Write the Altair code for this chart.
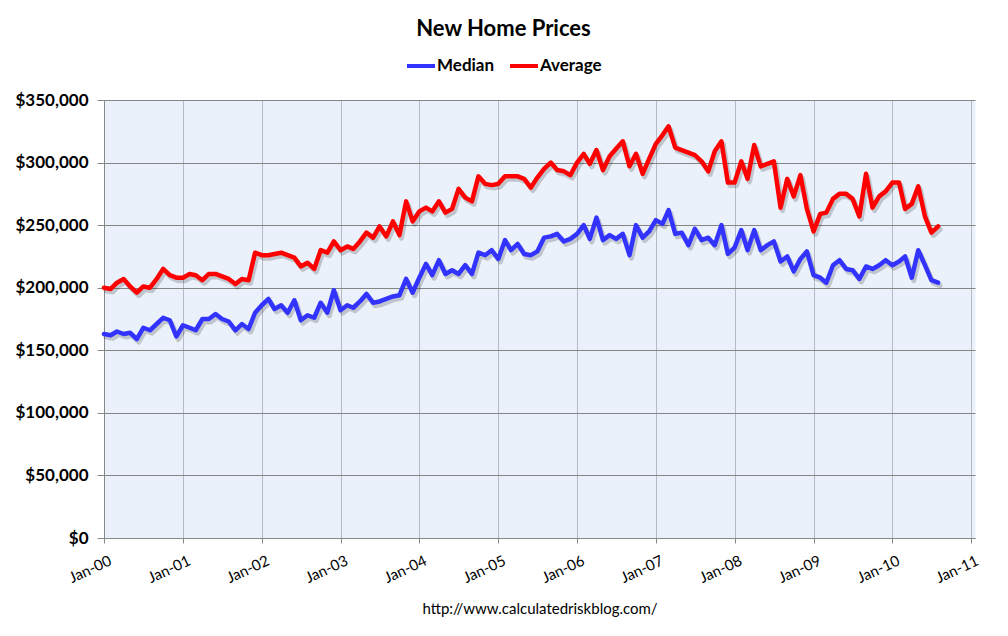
import altair as alt
import pandas as pd

# Monthly data, Jan-2000 .. Aug-2010 (values in thousands of dollars)
months = pd.date_range("2000-01-01", periods=128, freq="MS")

median_k = [
    163, 162, 165, 163, 164, 159, 168, 166, 171, 176, 174, 161,   # 2000
    170, 168, 166, 175, 175, 179, 175, 173, 166, 171, 167, 180,   # 2001
    186, 191, 183, 186, 180, 190, 174, 178, 176, 188, 180, 198,   # 2002
    182, 186, 184, 189, 195, 188, 189, 191, 193, 194, 207, 196,   # 2003
    208, 219, 210, 222, 211, 214, 211, 218, 211, 228, 226, 230,   # 2004
    223, 238, 230, 235, 227, 226, 229, 240, 241, 243, 237, 239,   # 2005
    243, 250, 239, 256, 238, 242, 239, 243, 226, 250, 240, 245,   # 2006
    254, 251, 262, 243, 244, 234, 247, 238, 240, 234, 250, 227,   # 2007
    232, 246, 230, 246, 230, 234, 237, 221, 225, 213, 223, 229,   # 2008
    210, 208, 204, 218, 222, 215, 214, 207, 217, 215, 218, 222,   # 2009
    218, 221, 225, 208, 230, 218, 206, 204,                       # 2010
]

average_k = [
    200, 199, 204, 207, 201, 196, 201, 200, 207, 215, 210, 208,   # 2000
    208, 211, 210, 206, 211, 211, 209, 207, 203, 207, 206, 228,   # 2001
    226, 226, 227, 228, 226, 224, 217, 220, 215, 230, 228, 237,   # 2002
    230, 233, 231, 237, 244, 240, 249, 241, 253, 242, 269, 253,   # 2003
    261, 264, 261, 269, 260, 263, 279, 272, 269, 289, 283, 282,   # 2004
    283, 289, 289, 289, 287, 280, 288, 295, 300, 294, 293, 290,   # 2005
    300, 307, 299, 310, 294, 305, 311, 317, 297, 307, 291, 303,   # 2006
    315, 322, 329, 312, 310, 308, 306, 301, 293, 309, 317, 284,   # 2007
    284, 301, 287, 314, 297, 299, 301, 264, 287, 273, 290, 263,   # 2008
    245, 259, 260, 271, 275, 275, 271, 257, 291, 264, 273, 277,   # 2009
    284, 284, 263, 267, 281, 257, 244, 249,                       # 2010
]

series_names = ["Median", "Average"]
series_colors = ["#3333FF", "#FF0000"]
y_ticks = [0, 50000, 100000, 150000, 200000, 250000, 300000, 350000]
x_tick_years = list(range(2000, 2012))

rows = []
for d, v in zip(months, median_k):
    rows.append({"date": d, "value": v * 1000, "series": "Median"})
for d, v in zip(months, average_k):
    rows.append({"date": d, "value": v * 1000, "series": "Average"})
df = pd.DataFrame(rows)

FONT = "Lato"

x_enc = alt.X(
    "date:T",
    scale=alt.Scale(
        domain=[alt.DateTime(year=2000, month=1, date=1),
                alt.DateTime(year=2011, month=1, date=19)],
        nice=False,
    ),
    axis=alt.Axis(
        values=[alt.DateTime(year=y, month=1, date=1) for y in x_tick_years],
        format="%b-%y",
        labelAngle=335,
        labelAlign="right",
        labelBaseline="top",
        labelFont=FONT,
        labelFontSize=15,
        labelColor="#000000",
        labelPadding=10,
        labelOffset=3,
        tickSize=5,
        tickColor="#888888",
        domainColor="#888888",
        grid=True,
        gridColor="#B4BAC6",
        gridWidth=1,
        title="http://www.calculatedriskblog.com/",
        titleFont=FONT,
        titleFontSize=15,
        titleFontWeight="normal",
        titleColor="#000000",
        titlePadding=16,
    ),
)

y_enc = alt.Y(
    "value:Q",
    scale=alt.Scale(domain=[0, 350000], nice=False),
    axis=alt.Axis(
        values=y_ticks,
        format="$,.0f",
        title=None,
        labelFont=FONT,
        labelFontSize=17,
        labelFontWeight="bold",
        labelColor="#000000",
        labelPadding=9,
        tickSize=7,
        tickColor="#888888",
        domainColor="#888888",
        grid=True,
        gridColor="#858585",
        gridWidth=1,
    ),
)

shadow = alt.Chart(df).mark_line(
    color="#000000", opacity=0.18, strokeWidth=5, xOffset=2, yOffset=3,
    strokeJoin="round", strokeCap="round",
).encode(x=x_enc, y=y_enc, detail="series:N")

lines = alt.Chart(df).mark_line(
    strokeWidth=4.5, strokeJoin="round", strokeCap="round",
).encode(
    x=x_enc,
    y=y_enc,
    color=alt.Color(
        "series:N",
        scale=alt.Scale(domain=series_names, range=series_colors),
        sort=series_names,
        legend=alt.Legend(
            orient="none",
            legendX=301,
            legendY=-50,
            direction="horizontal",
            title=None,
            symbolType="stroke",
            symbolSize=784,
            symbolStrokeWidth=4,
            labelFont=FONT,
            labelFontSize=17,
            labelFontWeight="bold",
            labelColor="#000000",
            labelOffset=0,
            columnPadding=7,
            padding=0,
        ),
    ),
)

chart = alt.layer(shadow, lines).properties(
    width=871,
    height=438,
    title=alt.TitleParams(
        "New Home Prices",
        font=FONT,
        fontSize=22,
        fontWeight="bold",
        color="#000000",
        anchor="middle",
        dx=-36,
        offset=9,
    ),
    autosize=alt.AutoSizeParams(type="none"),
    padding={"left": 96, "top": 92, "right": 25, "bottom": 90},
    background="#FFFFFF",
).configure_view(
    fill="#EBF1FA",
    strokeOpacity=0,
)

chart.save("out.html", embed_options={"renderer": "svg", "actions": False})
